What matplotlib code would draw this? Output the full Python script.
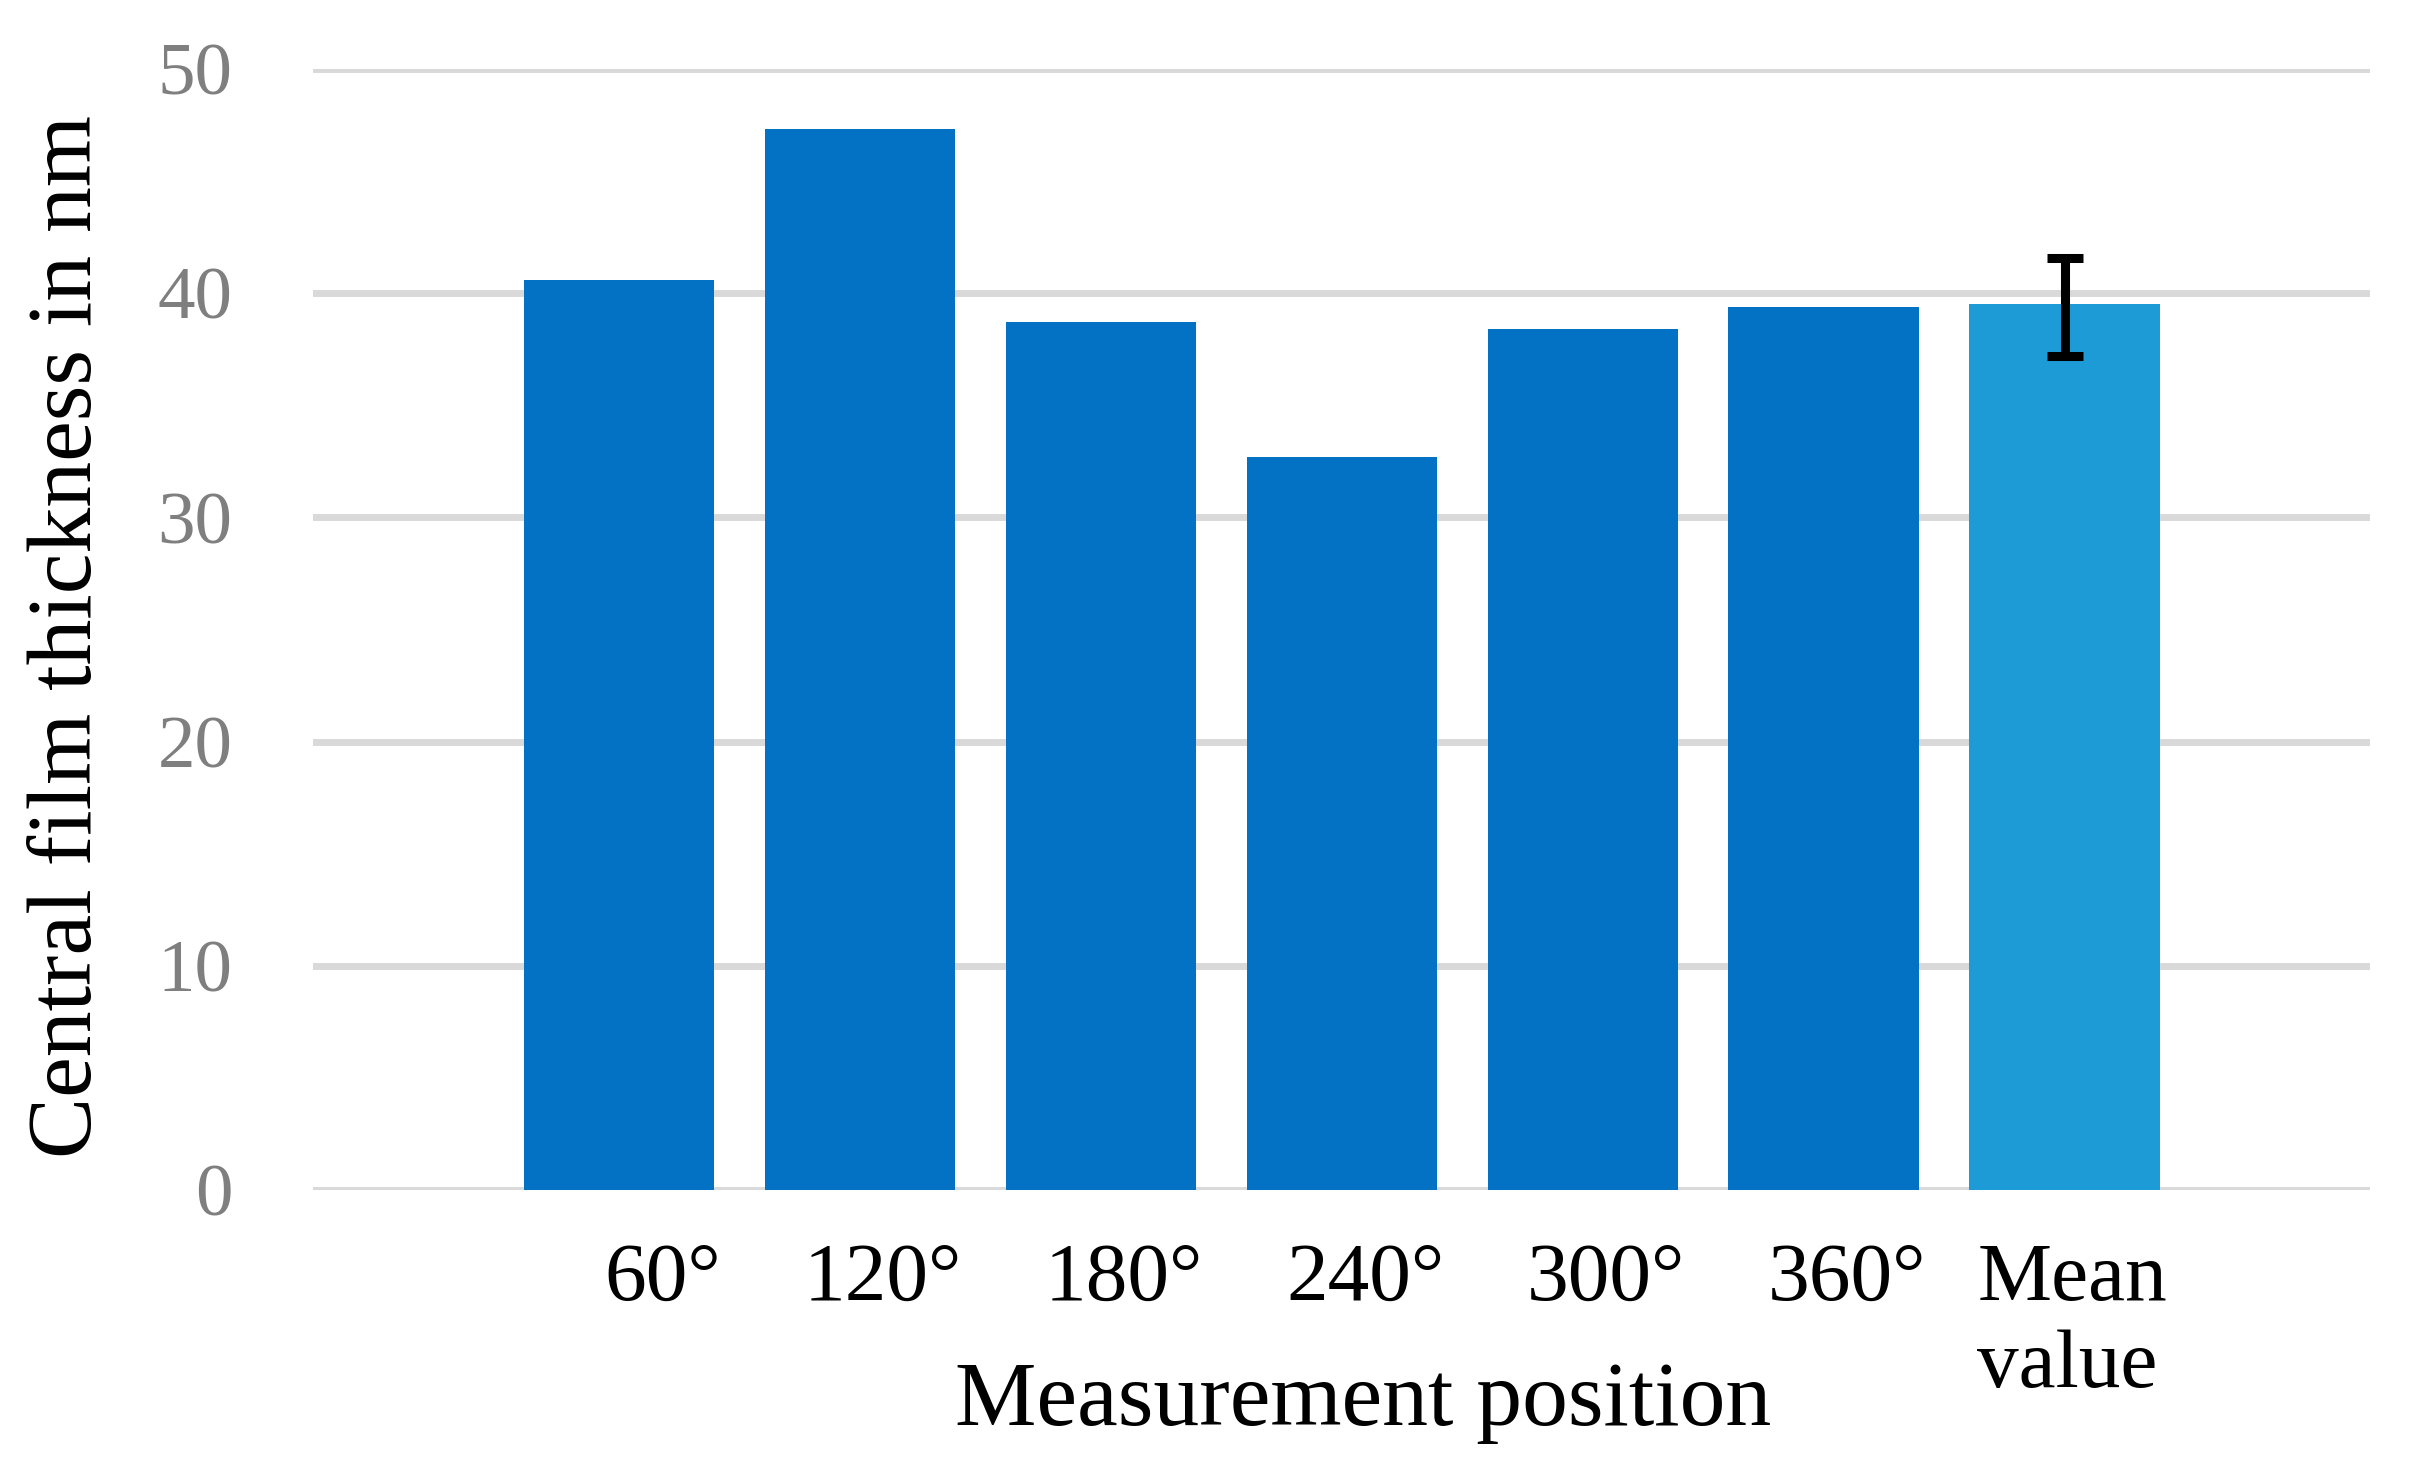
import numpy as np
import matplotlib
matplotlib.use("Agg")
import matplotlib.pyplot as plt

plt.rcParams['font.family'] = ['Liberation Serif', 'DejaVu Serif']

# values
positions = ['60°', '120°', '180°', '240°', '300°', '360°', 'Mean\nvalue']
thickness = [40.6, 47.3, 38.7, 32.7, 38.4, 39.4, 39.5]
mean_err_low = 2.3
mean_err_high = 2.05

dark_blue = '#0371C4'
light_blue = '#1D9BD7'
colors = [dark_blue] * 6 + [light_blue]

fig = plt.figure(figsize=(24.09, 14.83), dpi=100)
ax = fig.add_axes([0.130, 0.1976, 0.854, 0.7559])

x = np.arange(len(positions))
width = 0.79
ax.bar(x, thickness, width=width, color=colors, zorder=2)

# error bar only on the mean value
ax.errorbar(x[-1], thickness[-1], yerr=[[mean_err_low], [mean_err_high]],
            fmt='none', ecolor='black', elinewidth=6.5, capsize=13, capthick=6.5,
            zorder=3)

ax.set_ylim(0, 50)
ax.set_xlim(-1.27, 7.27)
ax.set_yticks(np.arange(0, 51, 10))
ax.yaxis.grid(True, color='#D9D9D9', linewidth=5, zorder=0)
ax.set_axisbelow(True)

for s in ax.spines.values():
    s.set_visible(False)

ax.tick_params(axis='y', length=0, pad=58, labelsize=54, labelcolor='#7F7F7F')
ax.tick_params(axis='x', length=0, pad=38, labelsize=60, labelcolor='black')

# labels sit right-aligned at the bar's right edge
ax.set_xticks(x + width / 2 + 0.03)
ax.set_xticklabels(positions, ha='right', multialignment='left', linespacing=1.2)

fig.text(0.0286, 0.5705, 'Central film thickness in nm', rotation=90,
         ha='center', va='center', fontsize=66)
fig.text(0.566, 0.039, 'Measurement position', ha='center', va='baseline',
         fontsize=66)

fig.savefig('out.png', dpi=100)
